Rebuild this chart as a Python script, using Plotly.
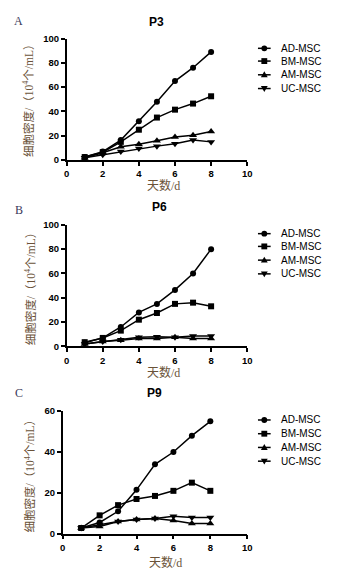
import plotly.graph_objects as go

# page has an 8px body margin; positions below are page pixels
W, H = 343, 576
OFF = 8
FW, FH = W - OFF, H - OFF

days = [1, 2, 3, 4, 5, 6, 7, 8]
series_names = ["AD-MSC", "BM-MSC", "AM-MSC", "UC-MSC"]

# P3
p3_ad = [2.5, 7, 16.5, 32, 48, 65, 76, 89]
p3_bm = [2.5, 6.5, 15, 25, 35, 41.5, 46.5, 52.5]
p3_am = [2, 6, 11, 13, 16, 19, 20.5, 23.5]
p3_uc = [2, 4.5, 7, 9.5, 11.5, 13.5, 16.5, 15]
# P6
p6_ad = [3, 7, 16, 28, 35, 46.5, 60, 80]
p6_bm = [3.5, 7, 13, 22, 27.5, 35, 36, 33]
p6_am = [2, 4, 5, 6.5, 6.5, 7.5, 6.5, 6.5]
p6_uc = [2, 4, 5.5, 7.5, 8, 7.5, 8.5, 8.5]
# P9
p9_ad = [2.8, 5.5, 11, 21.5, 34, 40, 48, 55]
p9_bm = [2.8, 9, 14, 17, 18.5, 21, 25, 21]
p9_am = [2.8, 3.5, 6, 7, 7.5, 6.5, 5, 5]
p9_uc = [2.8, 4.5, 6, 7, 7.5, 8.5, 8, 8]

x_ticks = [0, 2, 4, 6, 8, 10]
y_title = "细胞密度/（10<sup>4</sup>个/mL）"
x_title = "天数/d"

symbols = ["circle", "square", "triangle-up", "triangle-down"]

panels = [
    dict(label="A", title="P3", data=[p3_ad, p3_bm, p3_am, p3_uc], ymax=100, dtick=20,
         box=(65, 250, 33, 157), title_xy=(157, 16), label_xy=(16, 15),
         xt_xy=(164, 183), yt_xy=(26, 94), leg_y=[43, 56, 70, 84]),
    dict(label="B", title="P6", data=[p6_ad, p6_bm, p6_am, p6_uc], ymax=100, dtick=20,
         box=(65, 250, 223, 347), title_xy=(160, 205), label_xy=(16, 208),
         xt_xy=(164, 373.5), yt_xy=(27, 286), leg_y=[232, 245, 259, 273]),
    dict(label="C", title="P9", data=[p9_ad, p9_bm, p9_am, p9_uc], ymax=60, dtick=20,
         box=(61, 250, 413, 538), title_xy=(155, 394), label_xy=(16, 394),
         xt_xy=(166, 567), yt_xy=(27, 477), leg_y=[422, 436, 450, 464]),
]


def fx(p):
    return (p - OFF) / FW


def fy(p):
    return 1 - (p - OFF) / FH


text_color = "#6a5238"
fig = go.Figure()
layout = dict(width=FW, height=FH, margin=dict(l=0, r=0, t=0, b=0),
              paper_bgcolor="white", plot_bgcolor="white", showlegend=False)
annotations = []
shapes = []


def ann(text, x, y, font, **kw):
    d = dict(text=text, x=fx(x), y=fy(y), xref="paper", yref="paper", showarrow=False,
             xanchor="center", yanchor="middle", font=font)
    d.update(kw)
    annotations.append(d)


for i, p in enumerate(panels):
    n = "" if i == 0 else str(i + 1)
    xa, ya = "xaxis" + n, "yaxis" + n
    x0, x1, yt, yb = p["box"]
    tickfont = dict(family="Arial, Liberation Sans", size=9.5, color="black", weight="bold")
    layout[xa] = dict(domain=[fx(x0), fx(x1)], range=[0, 10], tickvals=x_ticks,
                      showline=True, linecolor="black", linewidth=1.5,
                      ticks="outside", ticklen=4, tickwidth=1.5, tickcolor="black",
                      showgrid=False, zeroline=False, anchor="y" + n, tickfont=tickfont)
    layout[ya] = dict(domain=[fy(yb), fy(yt)], range=[0, p["ymax"]], dtick=p["dtick"],
                      showline=True, linecolor="black", linewidth=1.5,
                      ticks="outside", ticklen=4, tickwidth=1.5, tickcolor="black",
                      showgrid=False, zeroline=False, anchor="x" + n, tickfont=tickfont)
    for s, vals in enumerate(p["data"]):
        fig.add_trace(go.Scatter(x=days, y=vals, mode="lines+markers", name=series_names[s],
                                 xaxis="x" + n, yaxis="y" + n, cliponaxis=False,
                                 line=dict(color="black", width=1.5),
                                 marker=dict(symbol=symbols[s], size=6 if s < 2 else 7, color="black")))
    ann("<b>" + p["title"] + "</b>", *p["title_xy"],
        font=dict(family="Arial, Liberation Sans", size=12, color="black"))
    ann(p["label"], *p["label_xy"],
        font=dict(family="Liberation Serif, Times New Roman", size=12, color="#3a3a5a"))
    ann(x_title, *p["xt_xy"],
        font=dict(family="Liberation Serif, Noto Sans CJK SC", size=12, color=text_color))
    ann(y_title, *p["yt_xy"], textangle=-90,
        font=dict(family="Liberation Serif, Noto Sans CJK SC", size=11.5, color=text_color))
    # legend
    for s, ly in enumerate(p["leg_y"]):
        shapes.append(dict(type="line", xref="paper", yref="paper",
                           x0=fx(261), x1=fx(274), y0=fy(ly), y1=fy(ly),
                           line=dict(color="black", width=1.5)))
        cx, r = 267.5, 3
        if s == 0:
            shapes.append(dict(type="circle", xref="paper", yref="paper",
                               x0=fx(cx - r), x1=fx(cx + r), y0=fy(ly + r), y1=fy(ly - r),
                               fillcolor="black", line=dict(width=0)))
        elif s == 1:
            shapes.append(dict(type="rect", xref="paper", yref="paper",
                               x0=fx(cx - r), x1=fx(cx + r), y0=fy(ly + r), y1=fy(ly - r),
                               fillcolor="black", line=dict(width=0)))
        elif s == 2:
            path = "M %f,%f L %f,%f L %f,%f Z" % (fx(cx - 3.5), fy(ly + 2.5), fx(cx + 3.5), fy(ly + 2.5), fx(cx), fy(ly - 3.5))
            shapes.append(dict(type="path", xref="paper", yref="paper", path=path,
                               fillcolor="black", line=dict(width=0)))
        else:
            path = "M %f,%f L %f,%f L %f,%f Z" % (fx(cx - 3.5), fy(ly - 2.5), fx(cx + 3.5), fy(ly - 2.5), fx(cx), fy(ly + 3.5))
            shapes.append(dict(type="path", xref="paper", yref="paper", path=path,
                               fillcolor="black", line=dict(width=0)))
        ann(series_names[s], 283, ly, xanchor="left",
            font=dict(family="Arial, Liberation Sans", size=10, color="black"))

layout["annotations"] = annotations
layout["shapes"] = shapes
fig.update_layout(**layout)
fig.write_html("out.html")
